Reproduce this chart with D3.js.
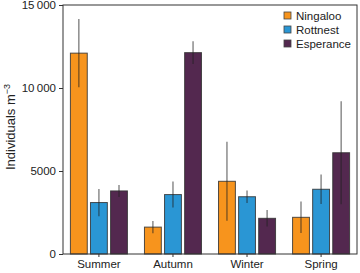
<!DOCTYPE html>
<html>
<head>
<meta charset="utf-8">
<script src="https://cdn.jsdelivr.net/npm/d3@7"></script>
<style>
  body { margin: 0; background: #fff; }
  text { font-family: "Liberation Sans", Arial, sans-serif; }
</style>
</head>
<body>
<div id="chart"></div>
<script>
var seasons = ["Summer", "Autumn", "Winter", "Spring"];
var sites = ["Ningaloo", "Rottnest", "Esperance"];
var colours = ["#F7941D", "#2A96D4", "#53284F"];
// mean and error (+/-) per site, in season order
var ningaloo = [12100, 1620, 4380, 2210];
var ningalooErr = [2050, 370, 2380, 950];
var rottnest = [3100, 3580, 3450, 3900];
var rottnestErr = [820, 780, 380, 890];
var esperance = [3800, 12130, 2150, 6100];
var esperanceErr = [360, 680, 500, 3100];
var yTicks = [0, 5000, 10000, 15000];
var yTickLabels = ["0", "5000", "10\u2009000", "15\u2009000"];

function init() {
    var w = 360, h = 273;
    var left = 63, right = 357, top = 5, bottom = 254;

    var values = [ningaloo, rottnest, esperance];
    var errs = [ningalooErr, rottnestErr, esperanceErr];
    var rows = [];
    seasons.forEach(function(s, i) {
        sites.forEach(function(site, j) {
            rows.push({season: s, site: j, v: values[j][i], e: errs[j][i]});
        });
    });

    var x0 = d3.scaleBand().domain(seasons).range([left, right])
        .paddingInner(0.23).paddingOuter(0.1);
    var x1 = d3.scaleBand().domain(d3.range(sites.length)).range([0, x0.bandwidth()])
        .paddingInner(0.16);
    var y = d3.scaleLinear().domain([0, 15000]).range([bottom, top]);

    var svg = d3.select("#chart").append("svg")
        .attr("width", w).attr("height", h);

    // bars
    svg.selectAll("rect.bar")
        .data(rows)
        .enter()
        .append("rect")
        .attr("class", "bar")
        .attr("x", function(d) { return x0(d.season) + x1(d.site); })
        .attr("y", function(d) { return y(d.v); })
        .attr("width", x1.bandwidth())
        .attr("height", function(d) { return y(0) - y(d.v); })
        .attr("fill", function(d) { return colours[d.site]; })
        .attr("stroke", "#333")
        .attr("stroke-opacity", 0.85)
        .attr("stroke-width", 1);

    // error bars
    svg.selectAll("line.err")
        .data(rows)
        .enter()
        .append("line")
        .attr("class", "err")
        .attr("x1", function(d) { return x0(d.season) + x1(d.site) + x1.bandwidth() / 2; })
        .attr("x2", function(d) { return x0(d.season) + x1(d.site) + x1.bandwidth() / 2; })
        .attr("y1", function(d) { return y(d.v + d.e); })
        .attr("y2", function(d) { return y(Math.max(0, d.v - d.e)); })
        .attr("stroke", "#222")
        .attr("stroke-opacity", 0.6)
        .attr("stroke-width", 1.3);

    // frame
    svg.append("rect")
        .attr("x", left).attr("y", top)
        .attr("width", right - left).attr("height", bottom - top)
        .attr("fill", "none").attr("stroke", "#333").attr("stroke-width", 1);

    var yAxis = d3.axisLeft(y).tickValues(yTicks).tickSize(4).tickPadding(3)
        .tickFormat(function(d, i) { return yTickLabels[i]; });
    var gy = svg.append("g").attr("transform", "translate(" + left + ",0)").call(yAxis);
    gy.select(".domain").remove();
    gy.selectAll("line").attr("stroke", "#333");
    gy.selectAll("text").attr("font-size", "11.5px").attr("fill", "#222")
        .style("font-family", "'Liberation Sans', Arial, sans-serif");

    var xAxis = d3.axisBottom(x0).tickSize(3).tickPadding(3);
    var gx = svg.append("g").attr("transform", "translate(0," + bottom + ")").call(xAxis);
    gx.select(".domain").remove();
    gx.selectAll("line").attr("stroke", "#333");
    gx.selectAll("text").attr("font-size", "11.5px").attr("fill", "#222")
        .style("font-family", "'Liberation Sans', Arial, sans-serif");

    // y label
    var lab = svg.append("text")
        .attr("transform", "translate(15,127) rotate(-90)")
        .attr("text-anchor", "middle")
        .attr("font-size", "13px")
        .attr("fill", "#222");
    lab.append("tspan").text("Individuals m");
    lab.append("tspan").attr("dy", -5).attr("font-size", "9px").text("\u22123");

    // legend
    var leg = svg.selectAll("g.leg")
        .data(sites)
        .enter()
        .append("g")
        .attr("class", "leg")
        .attr("transform", function(d, i) { return "translate(284," + (12 + i * 14) + ")"; });
    leg.append("rect")
        .attr("width", 7).attr("height", 7)
        .attr("fill", function(d, i) { return colours[i]; })
        .attr("stroke", "#444").attr("stroke-width", 0.8);
    leg.append("text")
        .attr("x", 12).attr("y", 7.5)
        .attr("font-size", "11.5px")
        .attr("fill", "#222")
        .text(function(d) { return d; });
}
window.onload = init;
</script>
</body>
</html>
